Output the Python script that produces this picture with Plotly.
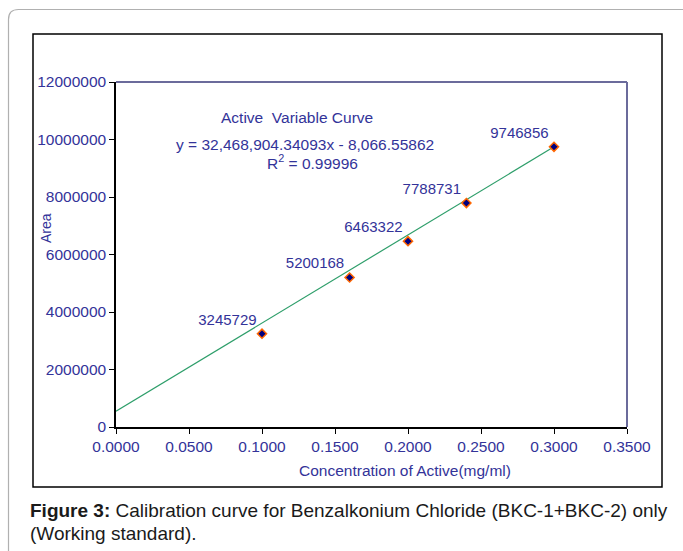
import plotly.graph_objects as go

conc = [0.1, 0.16, 0.2, 0.24, 0.3]
area = [3245729, 5200168, 6463322, 7788731, 9746856]
trend_x = [0.0, 0.3]
trend_y = [550000, 9746856]
x_ticks = [0, 0.05, 0.1, 0.15, 0.2, 0.25, 0.3, 0.35]
y_ticks = [0, 2000000, 4000000, 6000000, 8000000, 10000000, 12000000]

W, H = 683, 551
L, R, T, B = 116, 627, 82, 427
pw, ph = R - L, B - T

def px(x):
    return (x - L) / pw

def py(y):
    return (B - y) / ph

FONT = "Liberation Sans, Arial, sans-serif"
BLUE = "#333399"

fig = go.Figure()
fig.add_trace(go.Scatter(x=trend_x, y=trend_y, mode="lines",
                         line=dict(color="#2e9e6a", width=1.2),
                         hoverinfo="skip", showlegend=False))
fig.add_trace(go.Scatter(x=conc, y=area, mode="markers+text",
                         text=[str(v) for v in area], textposition="top left",
                         textfont=dict(family=FONT, size=15, color=BLUE),
                         marker=dict(symbol="diamond", size=7, color="#000080",
                                     line=dict(color="#ff6600", width=1.5)),
                         showlegend=False))

axis_common = dict(showgrid=False, zeroline=False, ticks="outside", ticklen=5,
                   tickcolor="#000000", tickwidth=1,
                   showline=True, linecolor="#000000", linewidth=1.5,
                   tickfont=dict(family=FONT, size=15.5, color=BLUE))
fig.update_xaxes(range=[0, 0.35], tickvals=x_ticks, tickformat=".4f", **axis_common)
fig.update_yaxes(range=[0, 12000000], tickvals=y_ticks, tickformat="d", **axis_common)

shapes = []
# outer rounded frame
x0, y0, x1, y1, r = px(8.5), py(9.5), px(700), py(600), 10
rx, ry = r / pw, r / ph
path = (f"M {x0},{y1} L {x0},{y0 - ry} Q {x0},{y0} {x0 + rx},{y0} "
        f"L {x1},{y0} L {x1},{y1} Z")
shapes.append(dict(type="path", xref="paper", yref="paper", path=path,
                   line=dict(color="#b0b0b0", width=1.2)))
# inner black frame
shapes.append(dict(type="rect", xref="paper", yref="paper",
                   x0=px(33), y0=py(487), x1=px(662), y1=py(34),
                   line=dict(color="#000000", width=1.5)))
# top and right border of plot area
shapes.append(dict(type="line", xref="paper", yref="paper", x0=0, y0=1, x1=1, y1=1,
                   line=dict(color="#6b6b9b", width=2)))
shapes.append(dict(type="line", xref="paper", yref="paper", x0=1, y0=0, x1=1, y1=1,
                   line=dict(color="#6b6b9b", width=2)))

ann = []
def add(text, x, y, size=15.5, color=BLUE, xanchor="center", textangle=0):
    ann.append(dict(text=text, x=px(x), y=py(y), xref="paper", yref="paper",
                    showarrow=False, xanchor=xanchor, yanchor="middle",
                    textangle=textangle,
                    font=dict(family=FONT, size=size, color=color)))

add("Active  Variable Curve", 297, 117)
add("y = 32,468,904.34093x - 8,066.55862", 305, 144)
add("R<sup>2</sup> = 0.99996", 312, 162)
add("Concentration of Active(mg/ml)", 405, 470)
add("Area", 46, 228, size=14, textangle=-90)
add("<b>Figure 3:</b> Calibration curve for Benzalkonium Chloride (BKC-1+BKC-2) only",
    28, 510, size=19, color="#1a1a1a", xanchor="left")
add("(Working standard).", 28, 533, size=19, color="#1a1a1a", xanchor="left")

fig.update_layout(width=W, height=H, margin=dict(l=L, r=W - R, t=T, b=H - B),
                  paper_bgcolor="white", plot_bgcolor="white",
                  shapes=shapes, annotations=ann, font=dict(family=FONT))
fig.write_html("out.html", config={"displayModeBar": False},
               post_script="document.body.style.margin='0';document.body.style.overflow='hidden';")
